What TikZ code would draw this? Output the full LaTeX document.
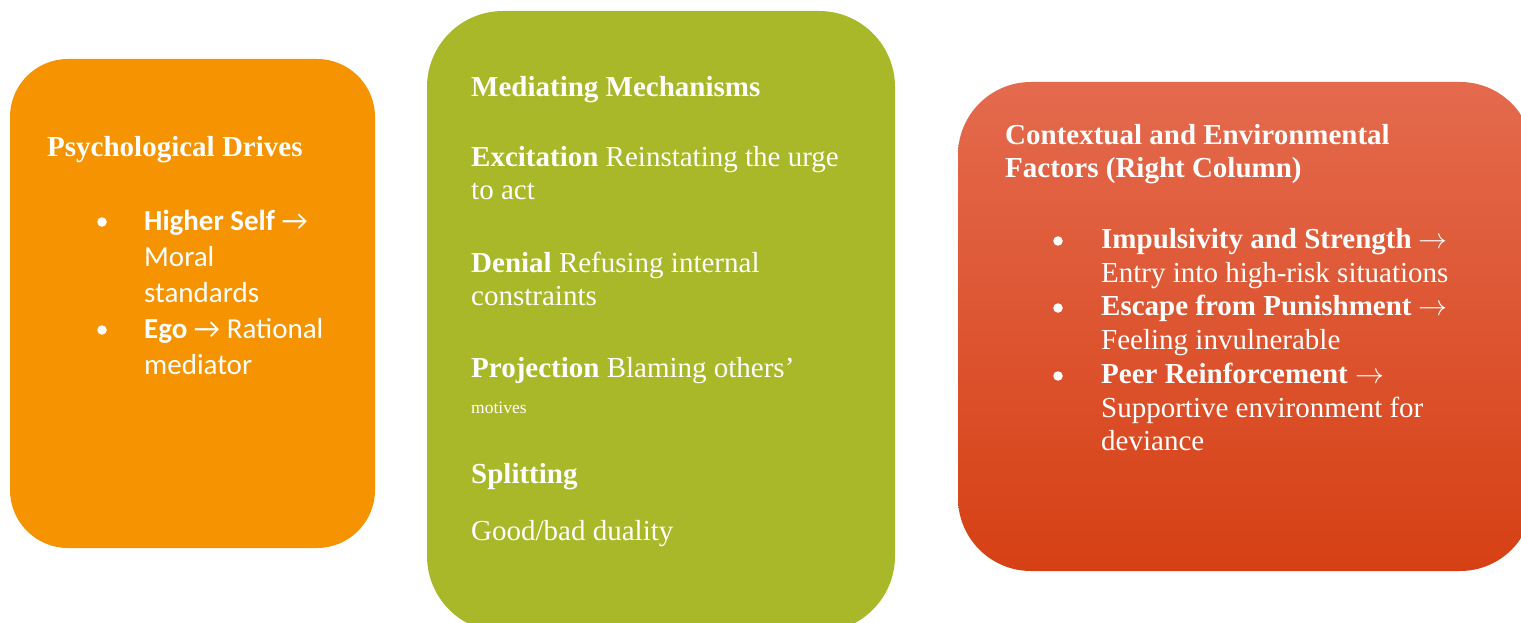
\RequirePackage{fix-cm}
\documentclass[tikz,border=0pt]{standalone}
\usepackage{fontspec}
\setmainfont{Liberation Serif}
\newfontfamily\calib{Carlito}
\definecolor{boxorange}{RGB}{245,147,0}
\definecolor{boxgreen}{RGB}{168,184,40}
\definecolor{redtop}{RGB}{228,106,78}
\definecolor{redmid}{RGB}{231,82,42}
\definecolor{redbot}{RGB}{214,64,20}
\newcommand{\rarr}{\ensuremath{\rightarrow}}
\begin{document}
\begin{tikzpicture}[x=1pt,y=-1pt,
  txt/.style={anchor=base west,inner sep=0pt,text=white,font=\fontsize{29}{34}\selectfont},
  sanstxt/.style={txt,font=\calib\fontsize{29}{36}\selectfont},
  smalltxt/.style={txt,font=\fontsize{17.5}{20}\selectfont},
  bul/.style={circle,fill=white,inner sep=0pt,minimum size=9.5pt}]
\useasboundingbox (0,0) rectangle (1521,623);
\clip (0,0) rectangle (1521,623);
% boxes
\fill[boxorange,rounded corners=58pt] (10,59) rectangle (375,548);
\fill[boxgreen,rounded corners=76pt] (427,11) rectangle (895,632);
\shade[top color=redtop,middle color=redmid,bottom color=redbot,rounded corners=73pt] (958,82) rectangle (1533,571);
% left box
\node[txt] (ltitle) at (47,157) {\bfseries Psychological Drives};
\node[bul] (lb1) at (102,222) {};
\node[sanstxt] (l1) at (144,230) {\bfseries Higher Self {\mdseries →}};
\node[sanstxt] (l2) at (144,266) {Moral};
\node[sanstxt] (l3) at (144,302) {standards};
\node[bul] (lb2) at (102,330) {};
\node[sanstxt] (l4) at (144,338) {\textbf{Ego} → Rational};
\node[sanstxt] (l5) at (144,374) {mediator};
% middle box
\node[txt] (mtitle) at (471,97) {\bfseries Mediating Mechanisms};
\node[txt] (m1) at (471,167) {\textbf{Excitation} Reinstating the urge};
\node[txt] (m2) at (471,200) {to act};
\node[txt] (m3) at (471,272) {\textbf{Denial} Refusing internal};
\node[txt] (m4) at (471,305) {constraints};
\node[txt] (m5) at (471,377) {\textbf{Projection} Blaming others’};
\node[smalltxt] (m6) at (471,413) {motives};
\node[txt] (m7) at (471,483) {\bfseries Splitting};
\node[txt] (m8) at (471,540) {Good/bad duality};
% right box
\node[txt] (rtitle1) at (1005,145) {\bfseries Contextual and Environmental};
\node[txt] (rtitle2) at (1005,178) {\bfseries Factors (Right Column)};
\node[bul] (rb1) at (1058,241) {};
\node[txt] (r1) at (1101,248) {\bfseries Impulsivity and Strength \rarr};
\node[txt] (r2) at (1101,282) {Entry into high-risk situations};
\node[bul] (rb2) at (1058,308) {};
\node[txt] (r3) at (1101,315) {\bfseries Escape from Punishment \rarr};
\node[txt] (r4) at (1101,349) {Feeling invulnerable};
\node[bul] (rb3) at (1058,376) {};
\node[txt] (r5) at (1101,383) {\bfseries Peer Reinforcement \rarr};
\node[txt] (r6) at (1101,417) {Supportive environment for};
\node[txt] (r7) at (1101,450) {deviance};
\end{tikzpicture}
\end{document}
